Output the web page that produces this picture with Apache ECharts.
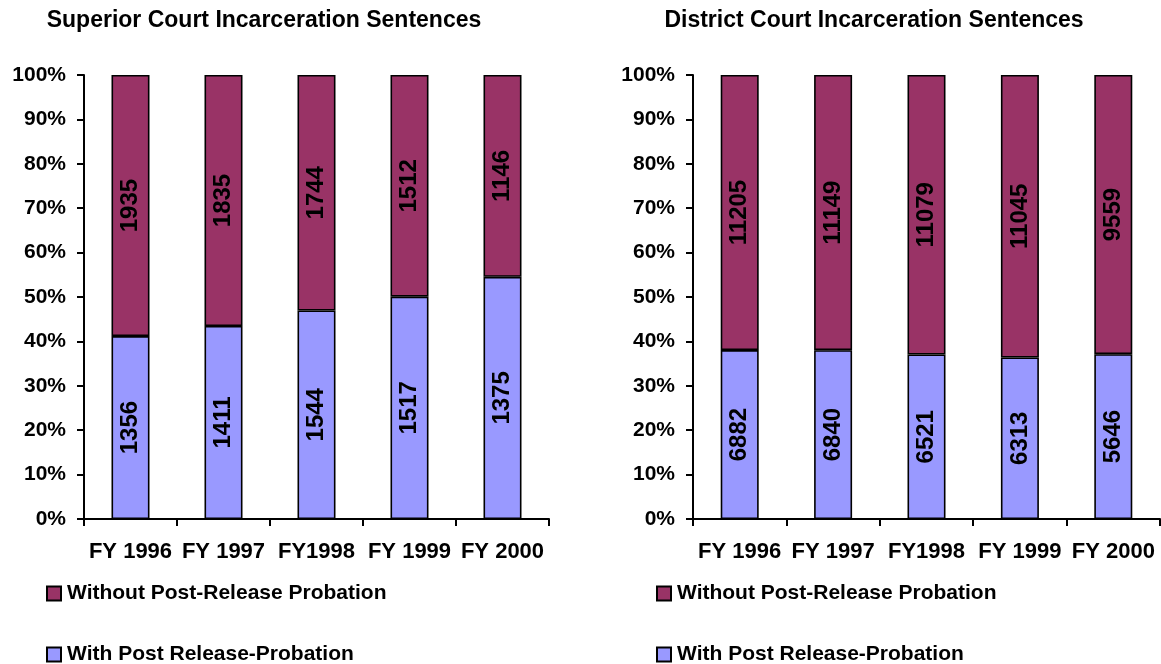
<!DOCTYPE html>
<html><head><meta charset="utf-8">
<script src="https://cdn.jsdelivr.net/npm/echarts@6/dist/echarts.min.js"></script>
<style>html,body{margin:0;padding:0;background:#fff}#c{width:1161px;height:664px}</style>
</head><body><div id="c"></div>
<script>
const categories = ['FY 1996', 'FY 1997', 'FY1998', 'FY 1999', 'FY 2000'];
const superiorWith = [1356, 1411, 1544, 1517, 1375];
const superiorWithout = [1935, 1835, 1744, 1512, 1146];
const districtWith = [6882, 6840, 6521, 6313, 5646];
const districtWithout = [11205, 11149, 11079, 11045, 9559];
const yTicks = [0, 10, 20, 30, 40, 50, 60, 70, 80, 90, 100];
const NAME_WITHOUT = 'Without Post-Release Probation';
const NAME_WITH = 'With Post Release-Probation';

const FONT = 'Liberation Sans, Arial, sans-serif';
const C_WITHOUT = '#993366';
const C_WITH = '#9999FF';

function pct(a, b) { return a.map((v, i) => ({ value: v / (v + b[i]) * 100, raw: v })); }

function xAxis(idx) {
  return {
    type: 'category', gridIndex: idx, data: categories,
    axisLine: { lineStyle: { color: '#000', width: 2 } },
    axisTick: { show: true, length: 7, lineStyle: { color: '#000', width: 2 } },
    axisLabel: { color: '#000', fontWeight: 'bold', fontSize: 22, fontFamily: FONT, margin: 22, interval: 0 }
  };
}
function yAxis(idx) {
  return {
    type: 'value', gridIndex: idx, min: 0, max: 100, interval: 10,
    axisLine: { show: true, lineStyle: { color: '#000', width: 2 } },
    axisTick: { show: true, length: 7, lineStyle: { color: '#000', width: 2 } },
    splitLine: { show: false },
    axisLabel: { color: '#000', fontWeight: 'bold', fontSize: 21, fontFamily: FONT, margin: 18,
      formatter: v => yTicks.includes(v) ? v + '%' : '' }
  };
}
function series(name, data, other, color, idx, stack) {
  return {
    name, type: 'bar', stack, xAxisIndex: idx, yAxisIndex: idx,
    data: pct(data, other), barWidth: 38,
    itemStyle: { color, borderColor: '#000', borderWidth: 1.6 },
    label: { show: true, position: 'inside', rotate: 90, color: '#000', fontWeight: 'bold',
      fontSize: 24, fontFamily: FONT, formatter: p => p.data.raw },
    emphasis: { disabled: true }
  };
}
function legend(name, color, left, top) {
  return {
    left, top, itemWidth: 14, itemHeight: 14, icon: 'rect', selectedMode: false,
    textStyle: { color: '#000', fontWeight: 'bold', fontSize: 21, fontFamily: FONT, padding: [0, 0, 0, 1] },
    data: [{ name, itemStyle: { color, borderColor: '#000', borderWidth: 2 } }]
  };
}
const chart = echarts.init(document.getElementById('c'), null, { renderer: 'canvas' });
chart.setOption({
  animation: false,
  title: [
    { text: 'Superior Court Incarceration Sentences', left: 259, top: 4, textAlign: 'center',
      textStyle: { color: '#000', fontWeight: 'bold', fontSize: 23, fontFamily: FONT } },
    { text: 'District Court Incarceration Sentences', left: 869, top: 4, textAlign: 'center',
      textStyle: { color: '#000', fontWeight: 'bold', fontSize: 23, fontFamily: FONT } }
  ],
  legend: [
    legend(NAME_WITHOUT, C_WITHOUT, 41, 578),
    legend(NAME_WITH, C_WITH, 41, 639),
    legend(NAME_WITHOUT, C_WITHOUT, 651, 578),
    legend(NAME_WITH, C_WITH, 651, 639)
  ],
  grid: [
    { left: 84, top: 75, width: 465, height: 444 },
    { left: 693, top: 75, width: 467, height: 444 }
  ],
  xAxis: [xAxis(0), xAxis(1)],
  yAxis: [yAxis(0), yAxis(1)],
  series: [
    series(NAME_WITH, superiorWith, superiorWithout, C_WITH, 0, 's'),
    series(NAME_WITHOUT, superiorWithout, superiorWith, C_WITHOUT, 0, 's'),
    series(NAME_WITH, districtWith, districtWithout, C_WITH, 1, 'd'),
    series(NAME_WITHOUT, districtWithout, districtWith, C_WITHOUT, 1, 'd')
  ]
});
</script></body></html>
